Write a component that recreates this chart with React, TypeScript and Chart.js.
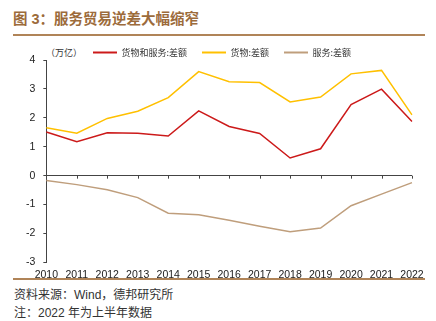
import React, { useEffect, useRef } from "react";
import { Chart, registerables } from "chart.js";

Chart.register(...registerables);

const years = ["2010", "2011", "2012", "2013", "2014", "2015", "2016", "2017", "2018", "2019", "2020", "2021", "2022"];
const totalBalance = [1.51, 1.17, 1.48, 1.47, 1.37, 2.24, 1.70, 1.46, 0.61, 0.93, 2.46, 2.99, 1.87];
const goodsBalance = [1.66, 1.47, 1.98, 2.23, 2.70, 3.60, 3.25, 3.22, 2.55, 2.72, 3.52, 3.64, 2.10];
const servicesBalance = [-0.17, -0.31, -0.49, -0.76, -1.30, -1.35, -1.54, -1.75, -1.94, -1.81, -1.04, -0.64, -0.24];
const seriesNames = ["货物和服务:差额", "货物:差额", "服务:差额"];
const yTicks = [-3, -2, -1, 0, 1, 2, 3, 4];

const CJK = '"Noto Sans CJK SC", "Liberation Sans", sans-serif';
const LAT = '"Liberation Sans", Arial, sans-serif';
const MIX = '"Liberation Sans", Arial, "Noto Sans CJK SC", sans-serif';
const BROWN = "#9c6b3b";
const RULE = "#b08458";
const AXIS = "#444444";

const legendFit = {
  id: "legendFit",
  beforeInit(chart: any) {
    const lg = chart.legend;
    if (!lg) return;
    const fit = lg.fit;
    lg.fit = function () {
      fit.call(lg);
      lg.height -= 7;
    };
  },
  beforeDraw(chart: any) {
    const lg = chart.legend;
    if (!lg) return;
    lg.left += 7;
    lg.right += 7;
  },
};

const zeroTicks = {
  id: "zeroTicks",
  afterDatasetsDraw(chart: any) {
    const { ctx, scales } = chart;
    const x = scales.x;
    const y = scales.y;
    const y0 = y.getPixelForValue(0);
    ctx.save();
    ctx.strokeStyle = AXIS;
    ctx.lineWidth = 1;
    ctx.beginPath();
    for (let i = 0; i < years.length; i++) {
      const px = Math.round(x.getPixelForValue(i)) + 0.5;
      ctx.moveTo(px, y0);
      ctx.lineTo(px, y0 + 3);
    }
    ctx.stroke();
    ctx.restore();
  },
};

export default function App() {
  const ref = useRef<HTMLCanvasElement>(null);

  useEffect(() => {
    const colors = ["#cc1a1a", "#ffc000", "#bf9e7c"];
    const chart = new Chart(ref.current as HTMLCanvasElement, {
      type: "line",
      data: {
        labels: years,
        datasets: [
          { label: seriesNames[0], data: totalBalance, borderColor: colors[0], backgroundColor: colors[0] },
          { label: seriesNames[1], data: goodsBalance, borderColor: colors[1], backgroundColor: colors[1] },
          { label: seriesNames[2], data: servicesBalance, borderColor: colors[2], backgroundColor: colors[2] },
        ],
      },
      options: {
        responsive: false,
        animation: false,
        devicePixelRatio: 1,
        layout: { padding: { top: 3, left: 18, right: 24, bottom: 0 } },
        elements: {
          point: { radius: 0 },
          line: { tension: 0, borderWidth: 1.5 },
        },
        plugins: {
          tooltip: { enabled: false },
          legend: {
            display: true,
            position: "top",
            align: "center",
            labels: {
              boxWidth: 24,
              boxHeight: 2,
              padding: 15,
              color: "#333",
              font: { family: CJK, size: 9 },
              generateLabels: (c: any) =>
                c.data.datasets.map((d: any, i: number) => ({
                  text: d.label,
                  fillStyle: d.borderColor,
                  strokeStyle: d.borderColor,
                  lineWidth: 0,
                  hidden: false,
                  datasetIndex: i,
                  fontColor: "#333",
                })),
            },
          },
        },
        scales: {
          x: {
            grid: { display: false, drawTicks: false },
            border: { display: false },
            ticks: {
              color: "#222",
              font: { family: LAT, size: 10.5 },
              padding: 6,
              maxRotation: 0,
              autoSkip: false,
            },
          },
          y: {
            min: yTicks[0],
            max: yTicks[yTicks.length - 1],
            afterBuildTicks: (s: any) => {
              s.ticks = yTicks.map((v) => ({ value: v }));
            },
            ticks: {
              color: "#222",
              font: { family: LAT, size: 10.5 },
              padding: 8,
            },
            grid: {
              color: (c: any) => (c.tick && c.tick.value === 0 ? AXIS : "rgba(0,0,0,0)"),
              lineWidth: 1,
              tickLength: 3,
              tickColor: AXIS,
              drawTicks: true,
            },
            border: { color: AXIS, width: 1 },
          },
        },
      },
      plugins: [legendFit, zeroTicks],
    } as any);
    return () => chart.destroy();
  }, []);

  return (
    <div style={{ position: "absolute", left: 0, top: 0, width: 436, height: 321, background: "#fff", overflow: "hidden" }}>
      <div
        style={{
          position: "absolute",
          left: 13,
          top: 10,
          fontFamily: MIX,
          fontSize: 14.5,
          fontWeight: "bold",
          color: BROWN,
          lineHeight: "18px",
          whiteSpace: "nowrap",
        }}
      >
        图 3：服务贸易逆差大幅缩窄
      </div>
      <div style={{ position: "absolute", left: 13, top: 34, width: 412, height: 2, background: RULE }} />
      <div
        style={{
          position: "absolute",
          left: 46,
          top: 47,
          fontFamily: CJK,
          fontSize: 9,
          color: "#333",
          lineHeight: "12px",
          whiteSpace: "nowrap",
        }}
      >
        （万亿）
      </div>
      <div style={{ position: "absolute", left: 13, top: 278, width: 412, height: 2, background: RULE }} />
      <canvas ref={ref} width={436} height={257} style={{ position: "absolute", left: 0, top: 30, width: 436, height: 257 }} />
      <div
        style={{
          position: "absolute",
          left: 14,
          top: 287,
          fontFamily: MIX,
          fontSize: 12,
          color: "#333",
          lineHeight: "16px",
          whiteSpace: "nowrap",
        }}
      >
        资料来源：Wind，德邦研究所
      </div>
      <div
        style={{
          position: "absolute",
          left: 14,
          top: 305,
          fontFamily: MIX,
          fontSize: 12,
          color: "#333",
          lineHeight: "16px",
          whiteSpace: "nowrap",
        }}
      >
        注：2022 年为上半年数据
      </div>
    </div>
  );
}
